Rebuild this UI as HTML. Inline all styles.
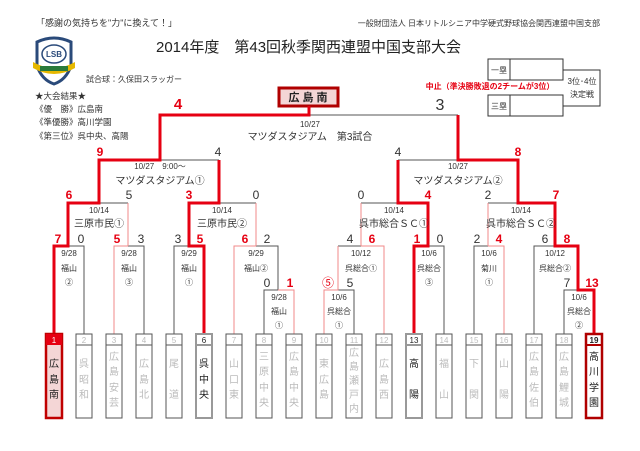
<!DOCTYPE html>
<html><head><meta charset="utf-8"><style>
body{margin:0;background:#fff}
svg{display:block;font-family:"Liberation Sans","Noto Sans CJK JP",sans-serif}
.s{font-size:12px;fill:#333;text-anchor:middle}
.r{font-size:12px;fill:#e60012;font-weight:bold;text-anchor:middle}
.d{font-size:8px;fill:#333;text-anchor:middle}
.v{font-size:10px;fill:#333;text-anchor:middle}
.t{font-size:10px;fill:#bbb;text-anchor:middle}
.tk{font-size:10px;fill:#222;text-anchor:middle}
.n{font-size:8px;fill:#bbb;text-anchor:middle}
</style></head><body>
<svg width="640" height="451" viewBox="0 0 640 451" xmlns="http://www.w3.org/2000/svg">
<text x="36" y="26" font-size="9" fill="#333">「感謝の気持ちを"力"に換えて！」</text>
<text x="600" y="26" font-size="8" fill="#333" text-anchor="end">一般財団法人 日本リトルシニア中学硬式野球協会関西連盟中国支部</text>
<text x="156" y="52" font-size="15" fill="#222">2014年度　第43回秋季関西連盟中国支部大会</text>
<!-- logo -->
<path d="M37,42 Q54,34 71,42 L71,66 Q66,80 54,84 Q42,80 37,66 Z" fill="#fff" stroke="#2a4a7a" stroke-width="3"/>
<ellipse cx="54" cy="54" rx="12" ry="9" fill="#fff" stroke="#2a4a7a" stroke-width="1.5"/>
<text x="54" y="57" font-size="8" fill="#2a4a7a" text-anchor="middle" font-weight="bold">LSB</text>
<path d="M33,62 Q54,74 75,62 L75,68 Q54,80 33,68Z" fill="#e6b800"/>
<rect x="40" y="66" width="28" height="5" fill="#2a7a3a"/>
<text x="86" y="82" font-size="8" fill="#333">試合球：久保田スラッガー</text>
<text x="35" y="99" font-size="8.5" fill="#333">★大会結果★</text>
<text x="35" y="112" font-size="8.5" fill="#333">《優　勝》広島南</text>
<text x="35" y="125" font-size="8.5" fill="#333">《準優勝》高川学園</text>
<text x="35" y="139" font-size="8.5" fill="#333">《第三位》呉中央、高陽</text>
<!-- 3rd place table -->
<g stroke="#333" fill="none" stroke-width="1">
<rect x="488" y="59" width="75" height="21"/><line x1="510" y1="59" x2="510" y2="80"/>
<rect x="488" y="95" width="75" height="21"/><line x1="510" y1="95" x2="510" y2="116"/>
<polyline points="563,70 600,70 600,106 563,106"/>
</g>
<text x="499" y="73" font-size="8" fill="#333" text-anchor="middle">一塁</text>
<text x="499" y="109" font-size="8" fill="#333" text-anchor="middle">三塁</text>
<text x="582" y="84" font-size="8" fill="#333" text-anchor="middle">3位･4位</text>
<text x="582" y="97" font-size="8" fill="#333" text-anchor="middle">決定戦</text>
<text x="490" y="89" font-size="8" fill="#e60012" font-weight="bold" text-anchor="middle">中止（準決勝敗退の2チームが3位）</text>
<!-- champion node -->
<rect x="279" y="88" width="59" height="18" fill="#f4d6d6" stroke="#b00000" stroke-width="3"/>
<text x="308" y="101" font-size="11" font-weight="bold" fill="#222" text-anchor="middle">広 島 南</text>
<!-- gray lines -->
<g stroke="#555" stroke-width="1" fill="none">
<path d="M309,115H458M160,160H219M398,160H458M99,203H128M219,203H256M361,203H398M488,203H518"/>
<path d="M68,246H84V334M128,246H144V334M174,334V246H189M256,246H278V290M264,334V290H278M338,290H354V334M338,246H361M428,246H444V334M474,334V246H488M534,334V246H555M564,334V290H578"/>
</g>
<!-- pink lines -->
<g stroke="#f08a8a" stroke-width="1" fill="none">
<path d="M128,203V246M256,203V246M361,203V246M488,203V246"/>
<path d="M114,334V246H128M234,334V246H256M278,290H294V334M324,334V290H338V246M361,246H384V334M488,246H504V334"/>
</g>
<!-- thick red -->
<g stroke="#e60012" stroke-width="3" fill="none" stroke-linejoin="miter">
<path d="M54,334V246H68V203H99V160H160V115H309V106"/>
<path d="M594,334V290H578V246H555V203H518V160H458V115"/>
<path d="M204,334V246H189V203H219V160"/>
<path d="M414,334V246H428V203H398V160"/>
</g>
<!-- scores -->
<text x="178" y="109" font-size="15" font-weight="bold" fill="#e60012" text-anchor="middle">4</text>
<text x="440" y="110" font-size="16" fill="#333" text-anchor="middle">3</text>
<text class="r" x="100" y="156">9</text><text class="s" x="218" y="156">4</text>
<text class="s" x="398" y="156">4</text><text class="r" x="518" y="156">8</text>
<text class="r" x="69" y="199">6</text><text class="s" x="129" y="199">5</text>
<text class="r" x="189" y="199">3</text><text class="s" x="256" y="199">0</text>
<text class="s" x="361" y="199">0</text><text class="r" x="428" y="199">4</text>
<text class="s" x="488" y="199">2</text><text class="r" x="556" y="199">7</text>
<text class="r" x="58" y="243">7</text><text class="s" x="81" y="243">0</text>
<text class="r" x="117" y="243">5</text><text class="s" x="141" y="243">3</text>
<text class="s" x="178" y="243">3</text><text class="r" x="200" y="243">5</text>
<text class="r" x="245" y="243">6</text><text class="s" x="267" y="243">2</text>
<text class="s" x="267" y="287">0</text><text class="r" x="290" y="287">1</text>
<text class="s" x="350" y="243">4</text><text class="r" x="372" y="243">6</text>
<text class="r" x="328" y="287" style="font-weight:normal">⑤</text><text class="s" x="350" y="287">5</text>
<text class="r" x="417" y="243">1</text><text class="s" x="440" y="243">0</text>
<text class="s" x="477" y="243">2</text><text class="r" x="499" y="243">4</text>
<text class="s" x="545" y="243">6</text><text class="r" x="567" y="243">8</text>
<text class="s" x="567" y="287">7</text><text class="r" x="592" y="287">13</text>
<!-- match labels -->
<text class="d" x="310" y="127">10/27</text>
<text class="v" x="310" y="140">マツダスタジアム　第3試合</text>
<text class="d" x="160" y="169">10/27　9:00～</text>
<text class="v" x="160" y="184">マツダスタジアム①</text>
<text class="d" x="458" y="169">10/27</text>
<text class="v" x="458" y="184">マツダスタジアム②</text>
<text class="d" x="99" y="213">10/14</text><text class="v" x="99" y="227">三原市民①</text>
<text class="d" x="222" y="213">10/14</text><text class="v" x="222" y="227">三原市民②</text>
<text class="d" x="394" y="213">10/14</text><text class="v" x="394" y="227">呉市総合ＳＣ①</text>
<text class="d" x="521" y="213">10/14</text><text class="v" x="521" y="227">呉市総合ＳＣ②</text>
<g class="d">
<text class="d" x="69" y="256">9/28</text><text class="d" x="69" y="271">福山</text><text class="d" x="69" y="285">②</text>
<text class="d" x="129" y="256">9/28</text><text class="d" x="129" y="271">福山</text><text class="d" x="129" y="285">③</text>
<text class="d" x="189" y="256">9/29</text><text class="d" x="189" y="271">福山</text><text class="d" x="189" y="285">①</text>
<text class="d" x="256" y="256">9/29</text><text class="d" x="256" y="271">福山②</text>
<text class="d" x="279" y="300">9/28</text><text class="d" x="279" y="314">福山</text><text class="d" x="279" y="328">①</text>
<text class="d" x="339" y="300">10/6</text><text class="d" x="339" y="314">呉総合</text><text class="d" x="339" y="328">①</text>
<text class="d" x="361" y="256">10/12</text><text class="d" x="361" y="271">呉総合①</text>
<text class="d" x="429" y="256">10/6</text><text class="d" x="429" y="271">呉総合</text><text class="d" x="429" y="285">③</text>
<text class="d" x="489" y="256">10/6</text><text class="d" x="489" y="271">菊川</text><text class="d" x="489" y="285">①</text>
<text class="d" x="555" y="256">10/12</text><text class="d" x="555" y="271">呉総合②</text>
<text class="d" x="579" y="300">10/6</text><text class="d" x="579" y="314">呉総合</text><text class="d" x="579" y="328">②</text>
</g>
<!-- team boxes -->
<g fill="none" stroke="#555" stroke-width="1">
<rect x="76" y="334" width="16" height="84"/><rect x="106" y="334" width="16" height="84"/><rect x="136" y="334" width="16" height="84"/>
<rect x="166" y="334" width="16" height="84"/><rect x="226" y="334" width="16" height="84"/><rect x="256" y="334" width="16" height="84"/>
<rect x="286" y="334" width="16" height="84"/><rect x="316" y="334" width="16" height="84"/><rect x="346" y="334" width="16" height="84"/>
<rect x="376" y="334" width="16" height="84"/><rect x="436" y="334" width="16" height="84"/><rect x="466" y="334" width="16" height="84"/>
<rect x="496" y="334" width="16" height="84"/><rect x="526" y="334" width="16" height="84"/><rect x="556" y="334" width="16" height="84"/>
<path d="M76,345h16M106,345h16M136,345h16M166,345h16M226,345h16M256,345h16M286,345h16M316,345h16M346,345h16M376,345h16M436,345h16M466,345h16M496,345h16M526,345h16M556,345h16"/>
</g>
<g fill="none" stroke="#999" stroke-width="2">
<rect x="196" y="334" width="16" height="84"/><rect x="406" y="334" width="16" height="84"/>
<path d="M196,345h16M406,345h16"/>
</g>
<rect x="46" y="334" width="16" height="84" fill="#f4d6d6" stroke="#c00000" stroke-width="2.5"/>
<rect x="46" y="334" width="16" height="11" fill="#e60012"/>
<rect x="586" y="334" width="16" height="84" fill="#fff" stroke="#b00000" stroke-width="2.5"/>
<line x1="586" y1="345" x2="602" y2="345" stroke="#b00000" stroke-width="2"/>
<text x="54" y="343" font-size="8" fill="#fff" text-anchor="middle">1</text>
<text class="n" x="84" y="343">2</text><text class="n" x="114" y="343">3</text><text class="n" x="144" y="343">4</text>
<text class="n" x="174" y="343">5</text><text x="204" y="343" font-size="8" fill="#222" text-anchor="middle">6</text>
<text class="n" x="234" y="343">7</text><text class="n" x="264" y="343">8</text><text class="n" x="294" y="343">9</text>
<text class="n" x="324" y="343">10</text><text class="n" x="354" y="343">11</text><text class="n" x="384" y="343">12</text>
<text x="414" y="343" font-size="8" fill="#222" text-anchor="middle">13</text>
<text class="n" x="444" y="343">14</text><text class="n" x="474" y="343">15</text><text class="n" x="504" y="343">16</text>
<text class="n" x="534" y="343">17</text><text class="n" x="564" y="343">18</text>
<text x="594" y="343" font-size="8" fill="#222" text-anchor="middle" font-weight="bold">19</text>
<!-- names -->
<g>
<text class="tk" x="54" y="367">広</text><text class="tk" x="54" y="383">島</text><text class="tk" x="54" y="398">南</text>
<text class="t" x="84" y="367">呉</text><text class="t" x="84" y="383">昭</text><text class="t" x="84" y="398">和</text>
<text class="t" x="114" y="360">広</text><text class="t" x="114" y="375">島</text><text class="t" x="114" y="391">安</text><text class="t" x="114" y="406">芸</text>
<text class="t" x="144" y="367">広</text><text class="t" x="144" y="383">島</text><text class="t" x="144" y="398">北</text>
<text class="t" x="174" y="367">尾</text><text class="t" x="174" y="398">道</text>
<text class="tk" x="204" y="367">呉</text><text class="tk" x="204" y="383">中</text><text class="tk" x="204" y="398">央</text>
<text class="t" x="234" y="367">山</text><text class="t" x="234" y="383">口</text><text class="t" x="234" y="398">東</text>
<text class="t" x="264" y="360">三</text><text class="t" x="264" y="375">原</text><text class="t" x="264" y="391">中</text><text class="t" x="264" y="406">央</text>
<text class="t" x="294" y="360">広</text><text class="t" x="294" y="375">島</text><text class="t" x="294" y="391">中</text><text class="t" x="294" y="406">央</text>
<text class="t" x="324" y="367">東</text><text class="t" x="324" y="383">広</text><text class="t" x="324" y="398">島</text>
<text class="t" x="354" y="356">広</text><text class="t" x="354" y="370">島</text><text class="t" x="354" y="384">瀬</text><text class="t" x="354" y="398">戸</text><text class="t" x="354" y="412">内</text>
<text class="t" x="384" y="367">広</text><text class="t" x="384" y="383">島</text><text class="t" x="384" y="398">西</text>
<text class="tk" x="414" y="367">高</text><text class="tk" x="414" y="398">陽</text>
<text class="t" x="444" y="367">福</text><text class="t" x="444" y="398">山</text>
<text class="t" x="474" y="367">下</text><text class="t" x="474" y="398">関</text>
<text class="t" x="504" y="367">山</text><text class="t" x="504" y="398">陽</text>
<text class="t" x="534" y="360">広</text><text class="t" x="534" y="375">島</text><text class="t" x="534" y="391">佐</text><text class="t" x="534" y="406">伯</text>
<text class="t" x="564" y="360">広</text><text class="t" x="564" y="375">島</text><text class="t" x="564" y="391">鯉</text><text class="t" x="564" y="406">城</text>
<text class="tk" x="594" y="360">高</text><text class="tk" x="594" y="375">川</text><text class="tk" x="594" y="391">学</text><text class="tk" x="594" y="406">園</text>
</g>
</svg>
</body></html>
